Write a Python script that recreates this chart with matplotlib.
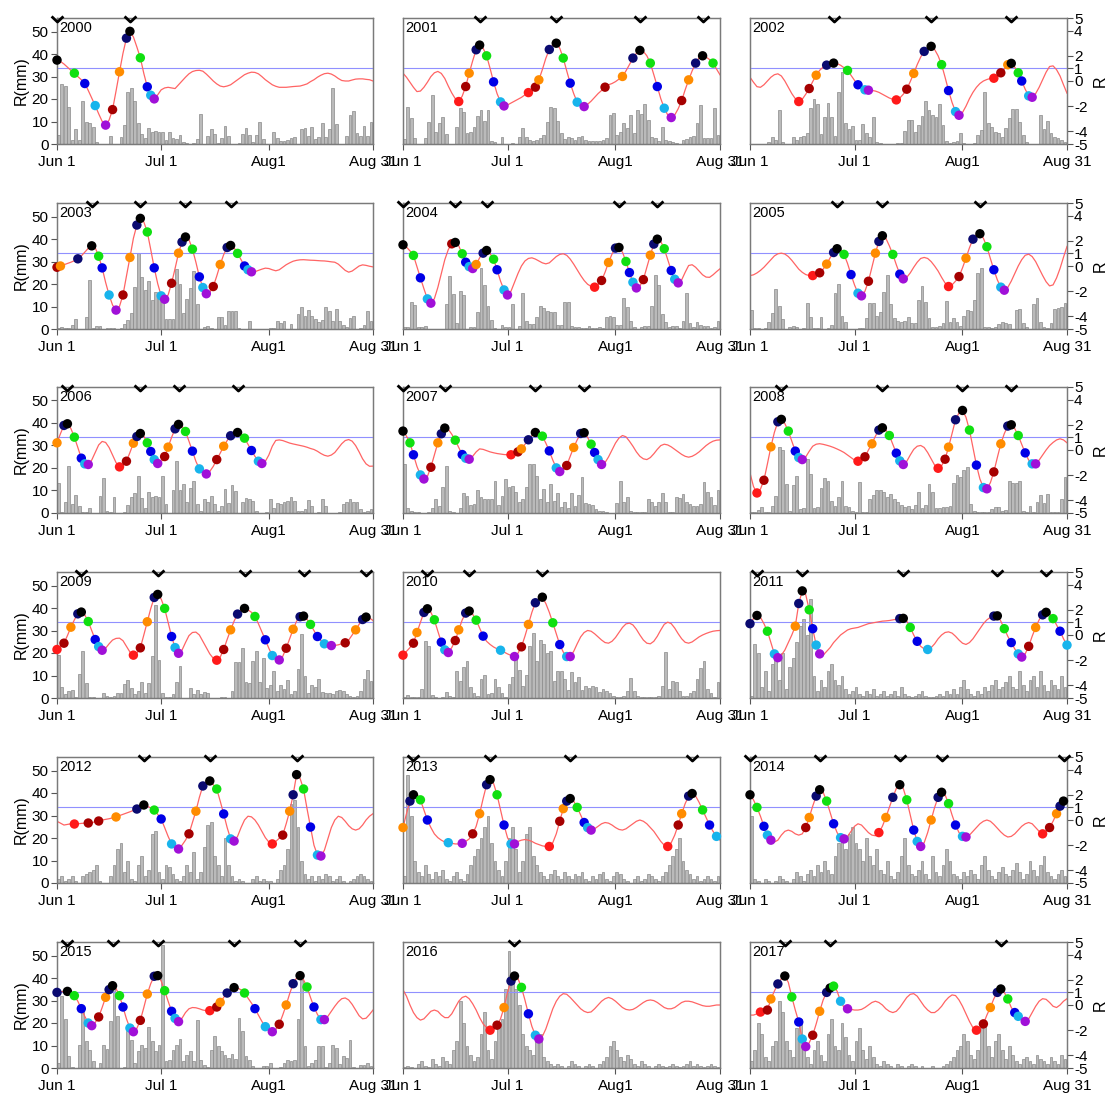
import numpy as np
import matplotlib
matplotlib.use('Agg')
import matplotlib.pyplot as plt
from matplotlib.path import Path

plt.rcParams['font.family'] = ['Liberation Sans', 'DejaVu Sans']

years = list(range(2000, 2018))
tick_days = [0, 30, 61, 91]
tick_labels = ['Jun 1', 'Jul 1', 'Aug1', 'Aug 31']
mm_ticks = [0, 10, 20, 30, 40, 50]
r_ticks = [-5, -4, -2, 0, 1, 2, 4, 5]
threshold = 1
phase_colors = ['#ff1a1a', '#a50000', '#ff8c00', '#0a0a70', '#000000',
                '#10e010', '#0000e6', '#18b4ec', '#a010d8']

# daily rainfall (mm)
rain = {
2000: [4,26.5,26,16.3,1.8,6.7,2,19.3,10,9.2,7.7,0.8,0,0,0,3.5,0,0,3.1,8.3,
       23.2,25,18.9,9.3,4.3,2.8,7.3,5.2,6,5.5,5.2,1.8,5.5,2.8,2.4,3.9,0.8,0.6,0,0.3,
       2.1,13.2,0,3.6,6.8,4.3,0.5,2.8,8.2,3.6,0,0,0.5,4.3,7,4,1,4,9.8,2.4,
       0,0,5.3,2.8,1.5,1.5,2,2.8,3.1,0,6.7,7.3,3.6,7.4,2.1,3.3,9.5,3.3,6.8,24.7,
       9.1,0,0,3.6,12.9,14.7,4.8,3.6,8.2,3.6,10],
2001: [2.2,16.6,11.4,2.5,0,0,2.5,10,21.8,5.5,9.2,12.2,4.5,0,0,7.7,16.2,14.4,4.8,5.5,
       7.7,12.5,15.2,10.4,15.2,1.5,1,0,3,0,0,0.6,0,3.3,7,3.3,2,1.5,1.8,2.5,
       4,10,16.3,16.2,10.4,4.8,2.4,3.3,2.7,1.8,3,3.6,1.8,1.2,1.2,1.5,1.5,2,2.5,13,
       13.7,4,5.5,9.5,7.3,13,5,15.2,13.4,18,10.7,3.3,2.5,1.5,7.4,1.8,1.2,0.8,0.6,0,
       1.8,2.4,3,3.6,9.2,17.4,2.5,2.5,2.5,15.9,4],
2002: [0,0,0,0,0,1,3.3,2,15.2,1,0,0,3.3,2,3,3.6,5,15.9,19.9,17.7,
       4.3,12.2,18.4,12.2,3.7,22.9,32.2,9.5,6.5,8.2,1.8,1.8,8.8,5,3,11.9,1,0.6,0,0,
       0,0,0.3,0.6,5.8,10.7,10.7,5.5,8.5,12.5,19.3,15.2,13,11.9,17.8,8.5,1.5,0.6,1,1.5,
       5,0.6,0,0,0.3,4,6.2,22.9,9.5,7.7,5.5,4.8,3,7,11.4,15.5,15.5,10,4,1,
       0,0,0,12.9,6.5,10.3,4.8,3.3,2.5,1.8,1],
2003: [0.6,0.9,0.6,0.3,1.8,4.3,0,0,5.5,21.7,0.6,1.5,1.5,0,0.3,0.3,0.3,0,0.6,2.1,
       4.2,7,18.6,33.7,22.9,17.4,21.5,12.9,16.3,15.2,12.9,4.3,4.5,4.6,26.7,20.2,7,13.4,18.4,25.6,
       11.3,0,1,1.2,0.6,0,5.2,5.2,1.8,8,8.2,8,0.3,0,0,3.6,0,0,0,0,
       0,0.3,0.6,3.6,2.5,3.6,0,2.1,0,6.7,9.8,6,8.5,5.8,4.5,3.3,4,9.8,8.2,3.6,
       8.9,3.6,1.8,1,4.8,5.8,0,0.3,1.8,8.2,3.6],
2004: [0.7,0.7,11.9,10.8,1,0.7,1.2,0,0,0,0,0,11,23.5,15.6,2.8,16.8,14.9,0,0.7,
       0.7,7.4,27.2,19.6,10.3,4,0.4,0,1.6,1,0.7,11.1,0,1.3,15.9,3.7,2.2,2.2,5.2,10.4,
       9.2,8.2,7.7,7.4,1.9,1.9,12.2,11.9,1.5,1,0.7,0.4,0.4,1.2,0.5,0.4,0.7,0.4,5.5,5.8,
       5.5,1.9,1.9,13.8,9.7,3.7,1,0,1,1.2,1.2,10.3,23.8,19.5,6.7,3.3,0.7,1.2,1.2,0.4,
       3.7,16.2,2.5,0.7,3.3,1.9,1.2,1.2,0.4,0.7,3.7],
2005: [8.5,0.6,0.3,0,0.6,3,7,17.8,10.4,4.3,0,1,1.3,1,0,0.3,11.4,5.5,0.3,0.6,
       5.2,0,0.6,1.8,15.9,20,6,3.3,0,0,0,0.6,0.3,5,11.4,11.7,6,7.7,16.3,24,
       11,5,3.6,3.3,3.6,5.5,2.8,2.8,12.9,19.3,12.2,4.8,1,1,1.5,2.5,12.6,3.3,4.8,3.3,
       1.3,6,8.6,8,12.9,24.8,27,1,1,0.6,1,2.1,3.3,2.8,2.1,0,8.5,8.9,2.5,1,
       0,11,14,3.3,1,0.6,2.5,8.9,9.2,10,11.4],
2006: [13.4,0.6,5,21.1,4,8,3,0.6,0.6,2.1,0,0,7.7,15.5,1,0.3,7,0,0,0.3,
       3.6,7.3,8.8,16.3,6.5,2.2,9.2,7,7.4,7,16.3,3.9,0,10.4,23.2,10.4,12.9,4.8,11,14,
       4,1,6,4.8,7.7,4,1,3,10.7,4.5,12.6,9.7,0,4.8,6.5,6.2,5.5,1,0,0,
       0.3,6.2,2.1,4.3,4,4.8,5.5,7,5.2,1,1,1.8,5.8,3.3,0,0.6,6,3.3,0,0,
       0,0.6,4,4.8,6.2,5,4.8,1.8,0.6,0.9,1.8],
2007: [21.8,2.1,1,0.6,0.3,0,0,0.3,2.1,6.2,3.3,11.7,20.7,1,0.3,0,2.1,8.9,7.7,3.6,
       3.9,10,7.3,6,6.2,6,14.3,3.6,7.7,15.2,11.4,12.2,9.2,5,6.2,11.7,21.7,21.7,16.6,6,
       10.7,4.8,12.9,5.5,8.8,2.5,4.8,2.1,8.9,3,8,15.9,4.5,4,3.7,1.8,1,0.9,0.6,0,
       0,4.5,14,5,7.3,1,0.6,0.6,0.3,0.6,6.2,5,3.3,4.8,9,5,0.6,0.6,7,6.5,
       8.5,5,4,3.3,3.3,4,13.7,9.2,7,3.6,10],
2008: [0.6,0.6,1.5,2.5,0.6,0.6,3.3,7.4,29.3,27.8,12.9,1,12.5,16.6,1.8,2.1,24,17.4,2.1,2.5,
       11,15.5,14,5.5,3.3,7,14.4,3.3,2.8,1,0.6,13.7,0.6,0.3,6.2,8,10.4,10.4,9.2,7.3,
       8.5,6,4.8,3.6,2.5,3,1.8,3.6,9.2,2.1,3.6,12.9,9.5,2.1,2.1,2.5,2.8,3,13.4,16.9,
       15.9,19.2,20.4,4,1,0.6,0.3,0.3,0.6,1.8,2.5,2.5,1,1.5,14.4,13.4,13.4,14.4,1,0.6,
       3,0.3,4.8,8,4.5,8.5,0.6,0.6,0.3,6.2,15.9],
2009: [19.2,4.8,1.8,3.3,3.6,0.3,10.7,21.1,6.7,0.6,0.3,0,0,2.2,1,0.3,1,2.1,2.1,6.2,
       8,4.3,1.8,3,7,2.1,6.7,18.6,41.2,16.9,2.1,0.6,0.6,1.8,7,14.1,0,0,4.3,1.8,
       3.6,1.8,2.5,2.4,0,0,0,0.6,0.3,0,3,15.9,15.9,22.1,7,6.5,16.3,21.1,7,17.8,
       4.5,5.8,12.2,3,5.8,4,8,1.8,3,12.9,28.5,10,2.1,6,5,8.5,2.5,2.4,2.1,1.8,
       3.3,3.6,3.3,1.8,1,0.6,1,3.3,8.3,12.5,7.7],
2010: [0.6,1.5,0.3,0.3,0.6,4,25.3,22.9,1.5,0.6,0,0.6,2.8,1,0.3,12.2,7.7,13.7,16.3,5,
       2.1,1,8.5,10.3,1.8,2.1,8.5,5,2.1,0.6,6.2,9.5,18.1,12.5,5.5,10.4,23.3,28.8,16.6,25.6,
       24.1,19.9,21.1,7.7,12.2,11.9,8.5,3.6,11.4,7,9.2,3.6,5.5,4.5,5.5,5,2.5,4,3.3,2.1,
       1,0.6,0.3,1,3.3,8.9,3.3,1,0.6,0.3,0.3,0.3,0.6,1,5.5,20.4,4,7.7,7,3.3,
       1,1,2.1,3.3,8.5,13.4,16.3,4,2.1,0.6,7],
2011: [1,24,20,5,12,3,15,18,8,20,4,14,18,25,32,35,28,44,10,3,
       8,5,12,15,8,6,10,4,2,3,5,2,1,3,2,4,1,2,3,1,
       2,3,1,5,2,1,0.5,1,2,3,1,0.5,0.5,1,2,1,3,2,4,2,
       5,8,4,2,1,3,2,5,3,6,8,4,5,7,10,5,4,12,6,3,
       8,10,5,12,6,3,8,6,4,10,5],
2012: [2,3,1,2,3,1,0,3,4,5,6,8,1,0,0,3,8,15,18,5,
       10,2,1,8,12,3,6,22,23,5,2,8,7,4,2,1,3,8,5,14,
       2,5,16,26,27,12,8,3,20,8,3,1,2,1,0,0,2,3,1,2,
       1,1,0,2,6,8,15,35,37,25,10,4,2,3,1,3,2,4,3,1,
       2,3,1,0,1,2,3,4,3,2,1],
2013: [3,48,30,10,5,3,8,4,2,5,3,6,2,1,3,5,2,1,4,8,
       12,15,20,25,30,18,10,6,3,10,20,25,15,5,10,22,25,12,8,5,
       3,2,4,6,3,2,5,3,2,4,3,5,2,1,3,2,4,5,2,1,
       3,5,4,2,1,0,2,3,1,2,4,3,2,1,3,5,8,12,15,20,
       10,6,4,2,3,1,2,3,2,1,3],
2014: [30,2,1,0,2,1,0,1,3,2,1,0,2,5,3,1,4,6,3,8,
       5,10,6,4,12,18,20,15,22,25,18,15,10,20,12,8,15,6,4,10,
       3,2,5,12,20,8,4,3,6,10,4,2,12,5,3,8,15,10,4,3,
       2,5,3,6,4,2,8,12,6,3,2,5,7,4,3,6,9,5,2,4,
       10,6,3,8,12,5,3,2,4,6,3],
2015: [2.2,31.9,21.8,5.2,0.4,0,10.4,25.9,11.9,8.1,3,0,2.2,10.4,8.4,20.7,35.6,23,0,0.4,
       16.3,12.6,2.2,7.4,10.4,8.9,18.2,11.9,7.4,10.4,54.8,3,3.7,8.1,10.4,12.9,3,5.9,7.4,3,
       21.2,3.7,1.5,0.4,8.1,14.1,9.9,7.4,5.9,4.4,6.4,4,22.2,16.3,5.5,3.4,1,0,0,1,
       0.7,2.2,0,0,0.4,2.2,3.7,3.3,3.7,21.8,39,9.6,0.7,2.2,3.7,9.6,9.9,0.4,2.2,10.4,
       8.9,1.9,5.5,4.4,12.6,0.4,0,1.5,1.5,2.2,0.7],
2016: [0.5,1,0.5,0,2,3,1,0.5,4,2,1,5,3,2,8,12,30,20,10,6,
       3,5,15,25,8,4,12,18,22,35,52,40,35,28,15,10,8,6,12,15,
       5,3,2,1,2,1,0,1,3,2,1,0,1,2,1,0,2,3,5,10,
       12,8,5,3,6,4,2,1,3,2,1,0,1,2,1,0.5,1,2,1,0.5,
       1,2,3,1,2,1,0.5,1,2,1,0.5],
2017: [3,8,20,15,5,3,10,12,30,25,12,8,5,18,22,10,5,2,8,12,
       6,3,15,22,10,8,20,14,6,3,12,18,8,4,10,5,2,1,3,2,
       1,0,2,1,0,1,2,1,0,1,0,0,1,0,0,1,2,3,5,8,
       10,15,12,6,4,8,18,20,10,5,12,15,8,4,10,6,3,2,4,5,
       3,2,6,4,3,2,5,3,2,6,4],
}

# daily index R (right axis)
index = {
2000: [1.66,1.55,1.35,1.1,0.85,0.62,0.35,0.1,-0.2,-0.75,-1.35,-1.95,-2.6,-3.2,-3.5,-3.1,-2.27,-0.8,0.73,2.2,
       3.4,3.94,3.5,2.7,1.84,0.6,-0.46,-1.13,-1.42,-1.1,-0.7,-0.55,-0.5,-0.55,-0.6,-0.3,0.0,0.3,0.57,0.75,
       0.83,0.85,0.78,0.55,0.28,0.0,-0.23,-0.4,-0.46,-0.4,-0.3,-0.1,0.1,0.3,0.5,0.62,0.7,0.68,0.57,0.35,
       0.1,-0.1,-0.3,-0.42,-0.5,-0.5,-0.5,-0.47,-0.44,-0.42,-0.4,-0.32,-0.23,-0.05,0.1,0.3,0.46,0.58,0.62,0.55,
       0.4,0.2,0.04,0.0,0.0,0.08,0.15,0.17,0.17,0.13,0.1,0.0],
2001: [0.62,0.3,-0.1,-0.5,-0.84,-0.8,-0.5,-0.1,0.35,0.65,0.76,0.6,0.2,-0.4,-0.95,-1.4,-1.63,-1.2,-0.44,0.62,
       1.6,2.48,2.85,2.6,2.0,1.0,-0.07,-1.0,-1.66,-1.98,-1.9,-1.75,-1.6,-1.45,-1.3,-1.1,-0.92,-0.75,-0.49,0.09,
       0.9,1.8,2.5,2.9,3.0,2.6,1.82,0.8,-0.17,-1.0,-1.68,-2.0,-2.03,-1.85,-1.6,-1.3,-1.0,-0.75,-0.49,-0.3,
       -0.2,-0.05,0.15,0.36,0.8,1.3,1.82,2.2,2.43,2.35,2.0,1.42,0.5,-0.44,-1.4,-2.16,-2.7,-2.9,-2.7,-2.2,
       -1.55,-0.7,0.09,0.8,1.42,1.85,2.0,1.9,1.7,1.42,0.95,0.49],
2002: [0.3,-0.1,-0.45,-0.5,-0.3,0.0,0.3,0.5,0.57,0.4,0.0,-0.5,-1.0,-1.4,-1.63,-1.45,-1.05,-0.6,-0.05,0.46,
       0.85,1.1,1.26,1.38,1.42,1.38,1.25,1.05,0.84,0.45,0.05,-0.3,-0.55,-0.7,-0.73,-0.75,-0.8,-0.9,-1.05,-1.2,
       -1.35,-1.45,-1.5,-1.35,-1.05,-0.65,-0.05,0.6,1.3,1.9,2.35,2.6,2.75,2.5,2.0,1.3,0.3,-0.76,-1.7,-2.43,
       -2.72,-2.5,-2.0,-1.4,-0.9,-0.5,-0.2,0.0,0.12,0.2,0.22,0.4,0.65,0.95,1.29,1.4,1.1,0.65,0.0,-0.65,
       -1.18,-1.29,-1.0,-0.5,0.1,0.7,1.15,1.2,0.9,0.4,-0.3,-0.97],
2003: [-0.1,0.0,0.1,0.2,0.3,0.42,0.57,0.8,1.1,1.4,1.6,1.45,0.78,-0.15,-1.3,-2.3,-3.1,-3.5,-3.2,-2.3,
       -0.8,0.68,2.2,3.25,3.78,3.5,2.7,1.3,-0.15,-1.4,-2.37,-2.64,-2.3,-1.37,-0.2,1.02,1.9,2.3,2.1,1.34,
       0.3,-0.86,-1.71,-2.2,-2.1,-1.63,-0.8,0.12,0.9,1.47,1.63,1.45,1.0,0.5,0.0,-0.3,-0.46,-0.45,-0.35,-0.25,
       -0.17,-0.2,-0.3,-0.38,-0.3,-0.1,0.1,0.25,0.38,0.45,0.49,0.5,0.48,0.46,0.45,0.43,0.41,0.4,0.37,0.33,
       0.3,0.15,-0.1,-0.35,-0.49,-0.4,-0.2,0.0,0.09,0.05,-0.02,-0.07],
2004: [1.68,1.5,1.2,0.84,-0.05,-0.94,-1.8,-2.61,-2.95,-2.6,-1.7,-0.6,0.5,1.3,1.76,1.87,1.6,0.97,0.3,-0.05,
       -0.2,0.12,0.65,1.02,1.23,1.0,0.54,-0.3,-1.2,-1.9,-2.3,-2.0,-1.3,-0.6,0.0,0.4,0.6,0.65,0.55,0.4,
       0.25,0.17,0.25,0.5,0.75,0.92,0.97,0.85,0.55,0.15,-0.3,-0.75,-1.15,-1.45,-1.62,-1.68,-1.5,-1.15,-0.5,0.28,
       0.95,1.42,1.47,1.1,0.36,-0.52,-1.29,-1.74,-1.6,-1.08,-0.1,0.86,1.74,2.13,1.95,1.37,0.5,-0.36,-1.05,-1.34,
       -1.1,-0.5,0.04,0.1,-0.1,-0.4,-0.7,-0.88,-0.9,-0.7,-0.45,-0.22],
2005: [-0.76,-0.7,-0.55,-0.35,-0.1,0.2,0.5,0.8,0.97,1.02,0.95,0.75,0.45,0.1,-0.25,-0.5,-0.68,-0.76,-0.76,-0.68,
       -0.54,-0.25,0.15,0.65,1.07,1.37,1.3,0.92,0.2,-0.68,-1.5,-2.16,-2.37,-2.0,-1.21,-0.1,1.02,1.95,2.4,2.2,
       1.6,0.92,0.1,-0.65,-1.02,-0.9,-0.55,-0.1,0.3,0.6,0.68,0.6,0.35,0.0,-0.4,-0.9,-1.35,-1.63,-1.5,-1.2,
       -0.84,-0.15,0.62,1.45,2.13,2.5,2.56,2.2,1.53,0.6,-0.3,-1.1,-1.68,-1.92,-1.7,-1.2,-0.6,0.0,0.5,0.85,
       0.94,0.75,0.35,-0.2,-0.75,-1.25,-1.58,-1.5,-0.95,-0.2,0.7,1.55],
2006: [0.57,1.3,1.95,2.08,1.7,1.02,0.2,-0.65,-1.1,-1.15,-0.8,-0.2,0.4,0.68,0.6,0.2,-0.4,-1.0,-1.34,-1.25,
       -0.89,-0.2,0.54,1.07,1.31,1.1,0.57,-0.12,-0.76,-1.07,-0.95,-0.52,0.23,1.0,1.68,2.03,1.9,1.47,0.7,-0.09,
       -0.9,-1.5,-1.8,-1.9,-1.7,-1.3,-0.76,-0.25,0.3,0.75,1.13,1.32,1.39,1.25,0.94,0.45,-0.04,-0.5,-0.89,-1.07,
       -0.9,-0.4,0.3,0.76,0.8,0.75,0.65,0.55,0.48,0.42,0.36,0.3,0.22,0.12,0.04,-0.1,-0.28,-0.42,-0.49,-0.4,
       -0.2,0.15,0.5,0.75,0.83,0.7,0.35,-0.15,-0.7,-1.1,-1.29,-1.28],
2007: [1.5,1.1,0.57,-0.38,-1.3,-1.98,-2.3,-2.1,-1.37,-0.4,0.57,1.29,1.74,1.65,1.25,0.78,0.2,-0.36,-0.65,-0.73,
       -0.5,-0.15,0.09,0.05,-0.05,-0.15,-0.22,-0.28,-0.32,-0.36,-0.38,-0.38,-0.28,-0.15,0.09,0.45,0.81,1.15,1.39,1.35,
       1.1,0.55,-0.07,-0.8,-1.42,-1.71,-1.6,-1.23,-0.5,0.2,0.8,1.31,1.37,1.0,0.46,-0.2,-0.76,-1.15,-1.0,-0.55,
       0.0,0.55,0.95,1.15,1.05,0.7,0.3,-0.15,-0.5,-0.7,-0.76,-0.6,-0.3,0.05,0.35,0.46,0.4,0.25,0.05,-0.15,
       -0.35,-0.5,-0.57,-0.5,-0.35,-0.15,0.1,0.35,0.55,0.7,0.78,0.8],
2008: [-1.82,-2.9,-3.41,-3.1,-2.4,-1.1,0.25,1.4,2.24,2.43,2.1,1.5,0.7,-0.09,-0.6,-0.76,-0.55,-0.1,0.3,0.46,
       0.5,0.45,0.38,0.3,0.2,0.08,-0.05,-0.2,-0.4,-0.6,-0.8,-0.89,-0.8,-0.54,0.0,0.49,1.1,1.58,1.76,1.6,
       1.15,0.45,-0.25,-0.86,-1.15,-0.9,-0.4,0.05,0.3,0.36,0.2,-0.2,-0.7,-1.2,-1.45,-1.25,-0.73,0.23,1.3,2.4,
       2.95,3.14,2.6,1.58,0.2,-1.2,-2.3,-2.98,-3.08,-2.6,-1.74,-0.6,0.49,1.3,1.9,2.0,1.7,1.15,0.45,-0.23,
       -0.8,-1.1,-1.1,-0.8,-0.4,0.0,0.35,0.6,0.8,0.89,0.8,0.57],
2009: [-1.15,-0.95,-0.65,-0.05,0.62,1.2,1.68,1.82,1.6,1.07,0.35,-0.36,-0.92,-1.21,-1.05,-0.7,-0.4,-0.27,-0.25,-0.45,
       -0.9,-1.35,-1.6,-1.45,-1.02,0.0,1.05,2.1,2.98,3.22,2.85,2.11,1.0,-0.12,-1.0,-1.45,-1.2,-0.6,-0.05,0.2,
       0.23,0.0,-0.5,-1.0,-1.5,-1.85,-2.0,-1.75,-1.15,-0.35,0.41,1.1,1.66,1.98,2.11,2.0,1.8,1.47,0.9,0.25,
       -0.38,-1.05,-1.63,-1.9,-1.98,-1.7,-1.05,-0.3,0.46,1.1,1.45,1.5,1.25,0.84,0.35,-0.12,-0.45,-0.7,-0.8,-0.84,
       -0.83,-0.78,-0.7,-0.62,-0.4,0.0,0.41,0.85,1.23,1.42,1.35,1.15],
2010: [-1.6,-1.3,-1.0,-0.65,0.2,1.0,1.79,2.08,1.8,1.21,0.3,-0.57,-1.18,-1.39,-1.0,-0.44,0.41,1.2,1.74,1.9,
       1.65,1.18,0.55,-0.09,-0.5,-0.75,-0.95,-1.1,-1.21,-1.35,-1.5,-1.62,-1.71,-1.45,-0.94,-0.1,0.84,1.8,2.56,2.9,
       3.0,2.5,1.8,0.97,0.1,-0.76,-1.35,-1.71,-1.71,-1.3,-0.7,-0.15,0.2,0.36,0.3,0.1,-0.15,-0.4,-0.6,-0.65,
       -0.5,-0.2,0.2,0.6,0.88,0.94,0.8,0.45,0.0,-0.4,-0.65,-0.7,-0.5,-0.1,0.4,0.85,1.02,0.9,0.55,0.1,
       -0.3,-0.58,-0.65,-0.55,-0.35,-0.15,0.0,0.12,0.22,0.3,0.34,0.36],
2011: [0.9,1.3,1.55,1.4,0.9,0.3,-0.6,-1.5,-1.8,-1.6,-1.2,-0.6,0.0,0.7,2.5,3.5,3.2,2.0,0.5,-0.8,
       -1.5,-1.6,-1.3,-1.0,-0.6,-0.3,0.0,0.2,0.4,0.5,0.55,0.6,0.7,0.8,0.9,0.95,1.0,1.05,1.1,1.12,
       1.15,1.2,1.25,1.3,1.32,1.1,0.6,0.0,-0.5,-0.9,-1.1,-1.15,-1.0,-0.7,-0.3,0.0,0.2,0.25,0.15,-0.1,
       -0.4,-0.65,-0.75,-0.6,-0.3,0.1,0.5,0.9,1.2,1.4,1.5,1.52,1.1,0.5,-0.1,-0.6,-1.1,-1.5,-1.75,-1.5,
       -0.9,-0.1,0.6,1.2,1.6,1.8,1.7,1.3,0.8,0.3,-0.3,-0.8],
2012: [-0.1,-0.25,-0.4,-0.35,-0.3,-0.32,-0.3,-0.27,-0.25,-0.24,-0.2,-0.15,-0.08,0.0,0.05,0.1,0.17,0.24,0.35,0.45,
       0.55,0.65,0.76,0.87,1.05,1.19,1.1,0.95,0.79,0.45,0.08,-0.6,-1.3,-1.9,-2.2,-2.3,-2.0,-1.6,-1.1,-0.2,
       0.7,1.8,2.7,3.0,3.1,2.8,2.46,1.5,0.48,-0.6,-1.5,-1.67,-1.3,-0.6,0.0,0.3,0.25,0.0,-0.4,-0.9,
       -1.4,-1.75,-1.9,-1.7,-1.45,-1.2,-0.3,0.7,2.0,3.6,3.3,2.46,0.9,-0.56,-2.0,-2.78,-2.86,-2.4,-1.5,-0.6,
       0.0,0.3,0.2,-0.1,-0.45,-0.7,-0.8,-0.7,-0.4,0.0,0.3,0.5],
2013: [-0.6,0.5,1.5,2.0,2.06,1.6,0.8,0.0,-0.6,-1.1,-1.4,-1.6,-1.75,-1.8,-1.85,-1.9,-1.9,-1.85,-1.7,-1.5,
       -1.1,-0.5,0.5,1.7,2.8,3.2,2.9,2.0,0.8,-0.4,-1.4,-1.9,-1.9,-1.7,-1.6,-1.55,-1.6,-1.7,-1.85,-1.95,
       -2.05,-2.1,-2.1,-1.8,-1.1,-0.1,0.9,1.5,1.7,1.5,1.0,0.4,-0.2,-0.6,-0.8,-0.7,-0.5,-0.3,-0.2,-0.25,
       -0.4,-0.6,-0.75,-0.8,-0.7,-0.5,-0.3,-0.1,0.0,-0.1,-0.3,-0.6,-0.9,-1.3,-1.7,-2.0,-2.1,-1.8,-1.2,-0.4,
       0.5,1.3,1.9,2.1,1.9,1.4,0.8,0.2,-0.4,-0.9,-1.3,-1.6],
2014: [2.0,1.6,1.0,0.3,-0.5,-1.2,-1.6,-1.75,-1.6,-1.2,-0.9,-0.8,-0.9,-1.1,-1.2,-1.1,-0.6,0.2,1.1,1.9,
       2.4,2.2,1.5,0.6,-0.3,-1.0,-1.4,-1.5,-1.3,-0.9,-0.5,-0.3,-0.4,-0.7,-1.0,-1.2,-1.25,-1.0,-0.5,0.2,
       1.0,1.8,2.5,2.8,2.5,1.6,0.4,-0.8,-1.7,-2.1,-1.8,-1.0,0.0,1.0,1.8,2.2,2.0,1.3,0.4,-0.4,
       -1.0,-1.3,-1.35,-1.2,-0.9,-0.6,-0.3,-0.1,0.0,-0.1,-0.35,-0.65,-0.95,-1.2,-1.35,-1.3,-1.1,-0.8,-0.5,-0.3,
       -0.2,-0.3,-0.6,-0.9,-1.1,-1.0,-0.6,-0.1,0.5,1.1,1.5,1.6],
2015: [1.0,1.05,1.08,1.08,0.95,0.74,0.3,-0.29,-0.9,-1.43,-1.64,-1.4,-0.95,-0.2,0.61,1.22,1.53,1.3,0.74,-0.16,
       -1.1,-1.83,-2.12,-1.85,-1.22,-0.2,0.87,1.7,2.28,2.33,1.9,1.14,0.3,-0.5,-1.06,-1.32,-1.05,-0.6,-0.3,-0.2,
       -0.22,-0.3,-0.4,-0.45,-0.45,-0.3,-0.16,0.21,0.6,0.95,1.2,1.38,1.35,1.2,0.95,0.55,0.15,-0.29,-0.8,-1.3,
       -1.72,-2.0,-2.12,-1.95,-1.53,-0.8,0.0,0.9,1.69,2.15,2.33,2.0,1.43,0.6,-0.16,-0.75,-1.16,-1.16,-0.9,-0.5,
       -0.1,0.25,0.5,0.56,0.4,0.05,-0.4,-0.85,-1.1,-1.05,-0.75,-0.4],
2016: [1.2,0.7,0.0,-0.6,-1.0,-1.2,-1.1,-0.8,-0.5,-0.4,-0.5,-0.8,-1.0,-1.0,-0.7,-0.2,0.3,0.6,0.7,0.5,
       0.1,-0.4,-1.0,-1.5,-1.8,-2.0,-1.9,-1.6,-1.1,-0.2,1.0,1.9,2.3,2.1,1.4,0.4,-0.7,-1.7,-2.4,-2.7,
       -2.5,-1.9,-1.1,-0.3,0.3,0.7,0.9,0.85,0.6,0.3,0.0,-0.3,-0.5,-0.6,-0.55,-0.3,0.0,0.3,0.5,0.6,
       0.5,0.3,0.05,-0.2,-0.35,-0.4,-0.35,-0.2,0.0,0.2,0.35,0.4,0.35,0.2,0.0,-0.2,-0.3,-0.3,-0.2,0.0,
       0.2,0.3,0.3,0.25,0.15,0.05,-0.05,-0.1,-0.1,-0.05,0.0,0.0],
2017: [-0.8,-0.8,-0.7,-0.56,-0.5,-0.4,0.48,1.1,1.67,2.1,2.3,1.8,0.64,-0.4,-1.35,-2.7,-3.3,-3.0,-2.4,-1.5,
       -0.5,0.4,1.0,1.35,1.5,1.1,0.3,-0.2,-0.3,-0.35,-0.4,-0.4,-0.35,-0.2,0.0,0.2,0.3,0.2,0.0,-0.3,
       -0.5,-0.6,-0.5,-0.2,0.2,0.6,0.85,0.9,0.7,0.3,-0.1,-0.4,-0.6,-0.6,-0.4,-0.1,0.3,0.6,0.8,0.75,
       0.4,-0.1,-0.7,-1.3,-1.8,-2.0,-1.9,-1.5,-0.8,-0.2,0.5,1.0,1.27,1.0,0.48,-0.2,-0.6,-0.9,-1.1,-1.3,
       -1.1,-0.6,-0.1,0.3,0.5,0.45,0.2,-0.1,-0.2,0.0,0.3,0.5],
}

# phase-coloured points: day index and phase number (1..9)
dot_days = {
2000: [0,5,8,11,14,16,18,20,21,24,26,27,28],
2001: [16,18,19,21,22,24,26,28,29,36,38,39,42,44,46,48,50,52,58,63,66,68,71,73,75,77,80,82,84,86,89],
2002: [14,17,19,22,24,28,31,33,34,42,45,47,50,52,55,57,59,60,70,72,74,75,77,78,80,81],
2003: [0,1,6,10,12,13,15,17,19,21,23,24,26,28,30,31,33,35,36,37,39,41,42,43,45,47,49,50,52,54,55,56],
2004: [0,3,5,7,8,14,15,17,18,19,20,21,23,24,26,27,29,30,55,57,59,61,62,64,65,66,67,69,71,72,73,75,77,78,79],
2005: [18,20,22,24,25,27,29,31,32,34,36,37,38,41,43,44,57,60,62,64,66,68,70,72,73],
2006: [0,2,3,5,7,8,9,18,20,22,23,24,26,27,28,29,31,32,34,35,37,39,41,43,46,48,50,52,54,56,58,59],
2007: [0,2,3,5,6,8,10,11,12,15,17,18,19,31,33,34,36,38,40,42,44,45,47,49,51,52,54,55,56,57],
2008: [2,4,6,8,9,11,13,14,15,31,33,35,37,38,40,42,43,44,54,56,57,59,61,63,65,67,68,70,72,74,75,77,79,81,82],
2009: [0,2,4,6,7,9,11,12,13,22,24,26,28,29,31,33,34,35,46,48,50,52,54,57,60,62,64,66,68,70,71,73,75,77,79,83,86,88,89],
2010: [0,3,4,6,7,9,11,12,13,15,16,18,19,21,23,28,32,34,36,38,40,43,45,47,48],
2011: [0,2,5,7,8,13,14,15,17,18,19,20,43,44,46,48,51,70,71,73,75,77,78,80,82,84,85,87,89,91],
2012: [5,9,12,17,23,25,28,30,33,35,38,40,42,44,46,48,50,51,62,65,67,68,69,71,73,75,76],
2013: [0,2,3,5,7,13,17,20,22,24,25,27,29,31,32,42,45,46,47,48,50,52,53,54,76,79,80,82,83,86,88,90],
2014: [0,2,4,5,6,16,17,19,20,22,24,26,27,37,39,41,43,45,47,48,49,52,54,55,57,59,61,62,84,86,88,89,90],
2015: [0,3,5,7,9,10,12,14,15,16,18,19,21,22,24,26,28,29,31,33,34,35,44,46,47,49,51,54,57,60,62,64,66,68,70,72,74,76,77],
2016: [25,27,29,31,32,34,36,38,39],
2017: [3,5,6,8,10,12,14,15,16,18,20,22,23,24,26,28,65,67,69,71,72,74,76,77,79],
}
dot_phase = {
2000: [5,6,7,8,9,2,3,4,5,6,7,8,9],
2001: [1,2,3,4,5,6,7,8,9,1,2,3,4,5,6,7,8,9,2,3,4,5,6,7,8,9,2,3,4,5,6],
2002: [1,2,3,4,5,6,7,8,9,1,2,3,4,5,6,7,8,9,1,2,3,5,6,7,8,9],
2003: [2,3,4,5,6,7,8,9,2,3,4,5,6,7,8,9,2,3,4,5,6,7,8,9,2,3,4,5,6,7,8,9],
2004: [5,6,7,8,9,2,5,6,7,8,9,3,4,5,6,7,8,9,1,2,3,4,5,6,7,8,9,2,3,4,5,6,7,8,9],
2005: [1,2,3,4,5,6,7,8,9,2,3,4,5,6,7,9,1,2,3,4,5,6,7,8,9],
2006: [3,4,5,6,7,8,9,1,2,3,4,5,6,7,8,9,2,3,4,5,6,7,8,9,2,3,4,5,6,7,8,9],
2007: [5,6,7,8,9,2,3,4,5,6,7,8,9,1,2,3,4,5,6,7,8,9,2,3,4,5,6,7,8,9],
2008: [1,2,3,4,5,6,7,8,9,1,2,3,4,5,6,7,8,9,1,2,3,4,5,6,7,8,9,2,3,4,5,6,7,8,9],
2009: [1,2,3,4,5,6,7,8,9,1,2,3,4,5,6,7,8,9,1,2,3,4,5,6,7,8,9,2,3,4,5,6,7,8,9,2,3,4,5],
2010: [1,2,3,4,5,6,7,8,9,2,3,4,5,6,7,8,9,2,3,4,5,6,7,8,9],
2011: [4,5,6,8,9,3,4,5,6,7,8,9,4,5,6,7,8,4,5,6,7,8,9,2,3,4,5,6,7,8],
2012: [1,2,2,3,4,5,6,7,8,9,2,3,4,5,6,7,8,9,1,2,3,4,5,6,7,8,9],
2013: [3,4,5,6,7,8,9,2,3,4,5,6,7,8,9,1,2,3,4,5,6,7,8,9,1,2,3,4,5,6,7,8],
2014: [5,6,7,8,9,2,3,4,5,6,7,8,9,1,3,4,5,6,7,8,9,3,4,5,6,7,8,9,1,2,3,4,5],
2015: [4,5,6,7,8,9,2,3,4,5,6,7,8,9,2,3,4,5,6,7,8,9,1,2,3,4,5,6,7,8,9,2,3,4,5,6,7,8,9],
2016: [1,2,3,4,5,6,7,8,9],
2017: [1,2,3,4,5,6,7,8,9,2,3,4,5,6,8,9,1,2,3,4,5,6,7,8,9],
}

W, HF = 1115, 1094
col_left = [57, 403, 750]
col_w = [316, 317, 317]
row_top = [18, 203, 387, 572, 757, 942]
PH = 126

chevron = Path([(-1.0, 0.35), (0.0, -0.6), (1.0, 0.35)],
               [Path.MOVETO, Path.LINETO, Path.LINETO])
spine_col = '#7a7a7a'

fig = plt.figure(figsize=(W / 100, HF / 100), dpi=100)
for k, yr in enumerate(years):
    r, c = divmod(k, 3)
    ax = fig.add_axes([col_left[c] / W, 1 - (row_top[r] + PH) / HF, col_w[c] / W, PH / HF])
    vals = rain[yr]
    ax.bar(np.arange(len(vals)), vals, width=0.8, align='edge',
           color='#bababa', edgecolor='#8a8a8a', linewidth=0.5, zorder=2)
    ax.set_xlim(0, 91)
    ax.set_ylim(0, 56)
    ax.set_xticks(tick_days)
    ax.set_xticklabels(tick_labels, fontsize=11)
    ax.tick_params(axis='x', direction='out', length=4, width=0.8, color='#555555', pad=4)
    if c == 0:
        ax.set_yticks(mm_ticks)
        ax.set_yticklabels([str(t) for t in mm_ticks], fontsize=11)
        ax.tick_params(axis='y', direction='out', length=4, width=0.8, color='#555555', pad=2)
        ax.set_ylabel('R(mm)', fontsize=11.5, labelpad=2)
    else:
        ax.set_yticks([])
    ax.text(0.008, 0.975, str(yr), transform=ax.transAxes, ha='left', va='top',
            fontsize=10.5, zorder=6)

    ax2 = ax.twinx()
    ax2.set_ylim(-5, 5)
    ax2.set_xlim(0, 91)
    ax2.axhline(threshold, color='#9090ff', lw=0.8, zorder=1)
    curve = index[yr]
    ax2.plot(np.arange(len(curve)), curve, color='#ff6464', lw=0.9, zorder=2)
    dd = dot_days[yr]
    pp = dot_phase[yr]
    yv = [curve[min(d, len(curve) - 1)] for d in dd]
    ax2.scatter(dd, yv, s=46, c=[phase_colors[p - 1] for p in pp],
                edgecolors='none', zorder=4, clip_on=False)
    peaks = [d for d, p in zip(dd, pp) if p == 5]
    ax2.plot(peaks, [5] * len(peaks), ls='none', marker=chevron, ms=8.5,
             mew=2.0, mfc='none', mec='black', clip_on=False, zorder=7)
    if c == 2:
        ax2.set_yticks(r_ticks)
        ax2.set_yticklabels([str(t) for t in r_ticks], fontsize=11)
        ax2.tick_params(axis='y', direction='out', length=4, width=0.8, color='#555555', pad=1)
        ax2.set_ylabel('R', fontsize=11.5, labelpad=4)
    else:
        ax2.set_yticks([])
    for a in (ax, ax2):
        for s in a.spines.values():
            s.set_color(spine_col)
            s.set_linewidth(0.9)

fig.savefig('out.png', dpi=100)
